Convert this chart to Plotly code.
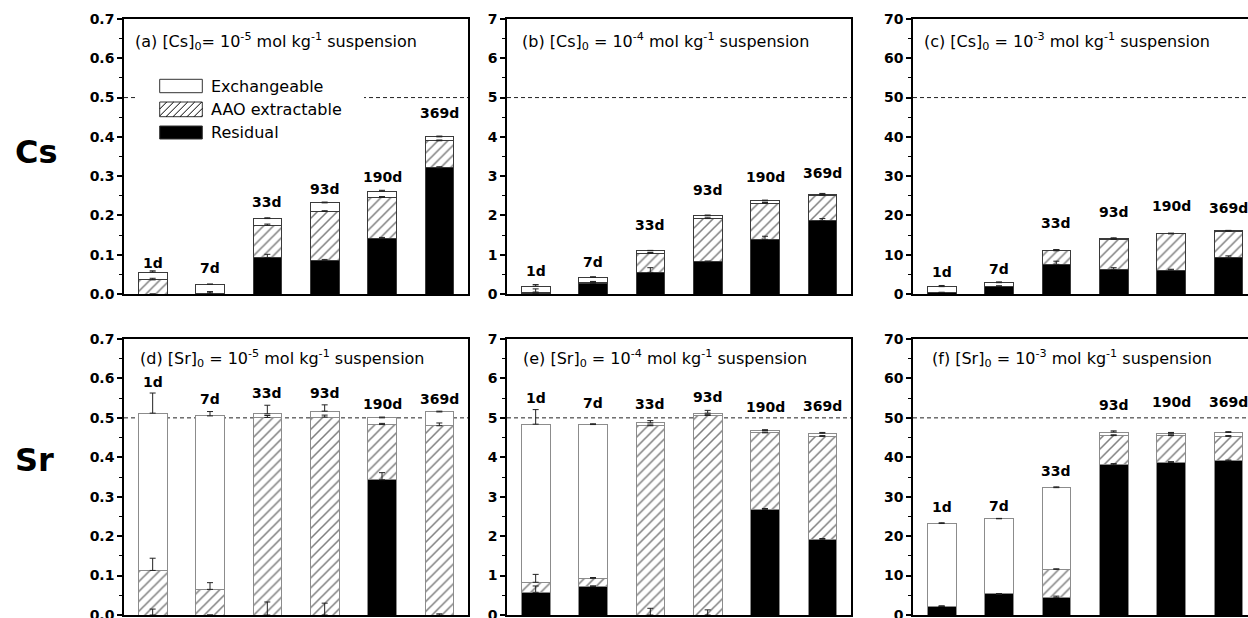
import plotly.graph_objects as go

W, H = 1248, 618
days = ["1d", "7d", "33d", "93d", "190d", "369d"]

# ---- data (segment heights as plotted) ----
# Panel (a) Cs 1e-5
a_res = [0.0, 0.0, 0.093, 0.085, 0.141, 0.321]
a_aao = [0.036, 0.002, 0.082, 0.125, 0.105, 0.069]
a_exc = [0.020, 0.023, 0.017, 0.022, 0.016, 0.010]
a_res_err = [0.0, 0.005, 0.008, 0.003, 0.003, 0.003]
a_aao_err = [0.004, 0.004, 0.003, 0.002, 0.002, 0.002]
a_exc_err = [0.003, 0.0, 0.002, 0.002, 0.002, 0.002]
a_lab_y = [0.079, 0.066, 0.235, 0.267, 0.298, 0.461]

# Panel (b) Cs 1e-4
b_res = [0.02, 0.27, 0.55, 0.82, 1.39, 1.87]
b_aao = [0.03, 0.02, 0.485, 1.10, 0.92, 0.64]
b_exc = [0.15, 0.13, 0.065, 0.07, 0.06, 0.03]
b_res_err = [0.0, 0.05, 0.12, 0.02, 0.08, 0.05]
b_aao_err = [0.08, 0.02, 0.02, 0.02, 0.02, 0.02]
b_exc_err = [0.04, 0.02, 0.01, 0.02, 0.02, 0.02]
b_lab_y = [0.59, 0.82, 1.76, 2.65, 2.98, 3.08]

# Panel (c) Cs 1e-3
c_res = [0.4, 1.87, 7.55, 6.3, 6.1, 9.2]
c_aao = [0.0, 0.1, 3.45, 7.6, 9.2, 6.8]
c_exc = [1.47, 0.91, 0.2, 0.2, 0.1, 0.1]
c_res_err = [0.0, 0.2, 0.8, 0.4, 0.2, 0.5]
c_aao_err = [0.0, 0.0, 0.2, 0.2, 0.1, 0.1]
c_exc_err = [0.3, 0.2, 0.1, 0.2, 0.1, 0.1]
c_lab_y = [5.7, 6.3, 18.1, 20.9, 22.4, 22.0]

# Panel (d) Sr 1e-5
d_res = [0.0, 0.0, 0.0, 0.0, 0.343, 0.0]
d_aao = [0.113, 0.065, 0.501, 0.502, 0.140, 0.480]
d_exc = [0.399, 0.440, 0.009, 0.015, 0.017, 0.035]
d_res_err = [0.015, 0.0, 0.033, 0.030, 0.018, 0.003]
d_aao_err = [0.031, 0.017, 0.005, 0.005, 0.003, 0.007]
d_exc_err = [0.051, 0.011, 0.022, 0.016, 0.002, 0.002]
d_lab_y = [0.590, 0.548, 0.563, 0.563, 0.536, 0.548]

# Panel (e) Sr 1e-4
e_res = [0.576, 0.72, 0.0, 0.0, 2.68, 1.92]
e_aao = [0.254, 0.21, 4.80, 5.06, 1.94, 2.61]
e_exc = [4.01, 3.90, 0.07, 0.06, 0.06, 0.08]
e_res_err = [0.16, 0.02, 0.17, 0.13, 0.02, 0.02]
e_aao_err = [0.20, 0.02, 0.02, 0.02, 0.02, 0.02]
e_exc_err = [0.37, 0.02, 0.06, 0.07, 0.02, 0.02]
e_lab_y = [5.50, 5.38, 5.36, 5.53, 5.28, 5.29]

# Panel (f) Sr 1e-3
f_res = [2.2, 5.33, 4.49, 38.1, 38.7, 39.1]
f_aao = [0.0, 0.0, 7.11, 7.4, 6.8, 6.2]
f_exc = [21.0, 19.07, 20.7, 0.9, 0.6, 1.0]
f_res_err = [0.1, 0.1, 0.3, 0.3, 0.2, 0.2]
f_aao_err = [0.0, 0.0, 0.1, 0.2, 0.2, 0.2]
f_exc_err = [0.2, 0.1, 0.2, 0.3, 0.2, 0.2]
f_lab_y = [27.3, 27.7, 36.4, 53.3, 53.9, 53.9]

ref_levels = [0.5, 5, 50, 0.5, 5, 50]
y_max = [0.7, 7, 70, 0.7, 7, 70]
y_dtick = [0.1, 1, 10, 0.1, 1, 10]

titles = [
    "(a) [Cs]<sub>0</sub>= 10<sup>-5</sup> mol kg<sup>-1</sup> suspension",
    "(b) [Cs]<sub>0</sub> = 10<sup>-4</sup> mol kg<sup>-1</sup> suspension",
    "(c) [Cs]<sub>0</sub> = 10<sup>-3</sup> mol kg<sup>-1</sup> suspension",
    "(d) [Sr]<sub>0</sub> = 10<sup>-5</sup> mol kg<sup>-1</sup> suspension",
    "(e) [Sr]<sub>0</sub> = 10<sup>-4</sup> mol kg<sup>-1</sup> suspension",
    "(f) [Sr]<sub>0</sub> = 10<sup>-3</sup> mol kg<sup>-1</sup> suspension",
]
legend_names = ["Exchangeable", "AAO extractable", "Residual"]

panels = [
    (a_res, a_aao, a_exc, a_res_err, a_aao_err, a_exc_err, a_lab_y),
    (b_res, b_aao, b_exc, b_res_err, b_aao_err, b_exc_err, b_lab_y),
    (c_res, c_aao, c_exc, c_res_err, c_aao_err, c_exc_err, c_lab_y),
    (d_res, d_aao, d_exc, d_res_err, d_aao_err, d_exc_err, d_lab_y),
    (e_res, e_aao, e_exc, e_res_err, e_aao_err, e_exc_err, e_lab_y),
    (f_res, f_aao, f_exc, f_res_err, f_aao_err, f_exc_err, f_lab_y),
]

# ---- layout geometry (pixels) ----
def px(x):
    return x / W

def py(y):
    return 1 - y / H

x_dom_px = [(124, 468), (507, 851), (913, 1248)]
y_dom_px = [(19, 294), (339, 615)]
unit_px = 344 / 6.0
title_pos = [(133, 42), (520, 42), (922, 42), (138, 358), (521, 358), (930, 358)]

FONT = "DejaVu Sans"
xpos = list(range(len(days)))  # bar slots, one per sampling day

fig = go.Figure()
annotations = []
shapes = []

for i, (res, aao, exc, re, ae, ee, laby) in enumerate(panels):
    row, col = divmod(i, 3)
    ax = "" if i == 0 else str(i + 1)
    xa, ya = "x" + ax, "y" + ax
    edge = "#3a3a3a" if row == 0 else "#8c8c8c"
    fig.add_trace(go.Bar(
        x=xpos, y=res, xaxis=xa, yaxis=ya, width=0.5, showlegend=False,
        name="Residual", customdata=days,
        marker=dict(color="black", line=dict(color=edge, width=1))))
    fig.add_trace(go.Bar(
        x=xpos, y=aao, xaxis=xa, yaxis=ya, width=0.5, showlegend=False,
        name="AAO extractable", customdata=days,
        marker=dict(color="white", line=dict(color=edge, width=1),
                    pattern=dict(shape="/", fgcolor="black", bgcolor="white",
                                 size=7, solidity=0.22))))
    fig.add_trace(go.Bar(
        x=xpos, y=exc, xaxis=xa, yaxis=ya, width=0.5, showlegend=False,
        name="Exchangeable", customdata=days,
        marker=dict(color="white", line=dict(color=edge, width=1))))
    # error bars on top of each stacked segment (drawn above all bars)
    top_res = list(res)
    top_aao = [r + a for r, a in zip(res, aao)]
    top_exc = [r + a + e for r, a, e in zip(res, aao, exc)]
    for tops, errs in ((top_res, re), (top_aao, ae), (top_exc, ee)):
        fig.add_trace(go.Scatter(
            x=xpos, y=tops, xaxis=xa, yaxis=ya, mode="markers", showlegend=False,
            marker=dict(size=1, opacity=0), hoverinfo="skip",
            error_y=dict(type="data", symmetric=False, array=errs,
                         arrayminus=[0] * 6, color="#222", thickness=1, width=3)))

    x0p, x1p = x_dom_px[col]
    y0p, y1p = y_dom_px[row]
    xr_hi = -0.5 + (x1p - x0p) / unit_px
    axis_common = dict(showline=True, linecolor="black", linewidth=1.5,
                       showgrid=False, zeroline=False, automargin=False)
    fig.layout["xaxis" + ax] = dict(
        domain=[px(x0p), px(x1p)], anchor=ya, range=[-0.5, xr_hi],
        tickmode="array", tickvals=[], showticklabels=False, ticks="", mirror=True,
        **axis_common)
    fig.layout["yaxis" + ax] = dict(
        domain=[py(y1p), py(y0p)], anchor=xa, range=[0, y_max[i]],
        dtick=y_dtick[i], tick0=0, ticks="outside", ticklen=5, tickwidth=1.5,
        tickcolor="black", mirror=(col != 2), ticklabeloverflow="allow",
        minor=dict(ticks="outside", ticklen=3, tickwidth=1, dtick=y_dtick[i] / 2,
                   tickcolor="black"),
        tickfont=dict(family=FONT, size=14, color="black", weight="bold"),
        tickformat=".1f" if y_max[i] < 1 else "d",
        **axis_common)

    shapes.append(dict(type="line", xref=xa + " domain", yref=ya, x0=0, x1=1,
                       y0=ref_levels[i], y1=ref_levels[i], layer="below",
                       line=dict(color="#222", width=1, dash="4px,3px")))

    tx, ty = title_pos[i]
    annotations.append(dict(text=titles[i], xref="paper", yref="paper",
                            x=px(tx), y=py(ty), xanchor="left", yanchor="middle",
                            showarrow=False,
                            font=dict(family=FONT, size=16, color="black")))
    for xp, d, yl in zip(xpos, days, laby):
        annotations.append(dict(text="<b>" + d + "</b>", xref=xa, yref=ya, x=xp, y=yl,
                                xanchor="center", yanchor="middle", showarrow=False,
                                font=dict(family=FONT, size=14, color="black")))

# row labels
annotations.append(dict(text="<b>Cs</b>", xref="paper", yref="paper", x=px(36), y=py(152),
                        showarrow=False, xanchor="center", yanchor="middle",
                        font=dict(family=FONT, size=32, color="black")))
annotations.append(dict(text="<b>Sr</b>", xref="paper", yref="paper", x=px(34), y=py(460),
                        showarrow=False, xanchor="center", yanchor="middle",
                        font=dict(family=FONT, size=32, color="black")))

# custom legend in panel (a)
shapes.append(dict(type="rect", xref="paper", yref="paper", x0=px(138), x1=px(364),
                   y0=py(144), y1=py(74), fillcolor="white", line=dict(width=0),
                   layer="above"))
bx0, bx1 = 159.7, 202.3
boxes = [(79.3, 92.7, "white"), (102.0, 116.7, "white"), (126.0, 139.0, "black")]
for (by0, by1, fc) in boxes:
    shapes.append(dict(type="rect", xref="paper", yref="paper", x0=px(bx0), x1=px(bx1),
                       y0=py(by1), y1=py(by0), fillcolor=fc,
                       line=dict(color="#333", width=1), layer="above"))
# hatch for AAO legend box
hy0, hy1 = boxes[1][0], boxes[1][1]
hh = hy1 - hy0
segs = []
t = bx0 - hh
while t < bx1:
    xa0, ya0 = t, hy1
    xa1, ya1 = t + hh, hy0
    if xa0 < bx0:
        ya0 = hy1 - (bx0 - xa0)
        xa0 = bx0
    if xa1 > bx1:
        ya1 = hy0 + (xa1 - bx1)
        xa1 = bx1
    if xa1 > xa0:
        segs.append("M%.5f,%.5f L%.5f,%.5f" % (px(xa0), py(ya0), px(xa1), py(ya1)))
    t += 7
shapes.append(dict(type="path", xref="paper", yref="paper", path=" ".join(segs),
                   line=dict(color="black", width=1), layer="above"))
for (by0, by1, _), name in zip(boxes, legend_names):
    annotations.append(dict(text=name, xref="paper", yref="paper", x=px(209),
                            y=py((by0 + by1) / 2), xanchor="left", yanchor="middle",
                            showarrow=False,
                            font=dict(family=FONT, size=16, color="black")))

fig.update_layout(
    width=W, height=H, margin=dict(l=0, r=0, t=0, b=0, autoexpand=False),
    paper_bgcolor="white", plot_bgcolor="white",
    barmode="stack", bargap=0.5, showlegend=False,
    annotations=annotations, shapes=shapes,
)

fig.write_html(
    "out.html",
    config={"displayModeBar": False},
    post_script="document.body.style.margin='0';document.body.style.overflow='hidden';",
)
